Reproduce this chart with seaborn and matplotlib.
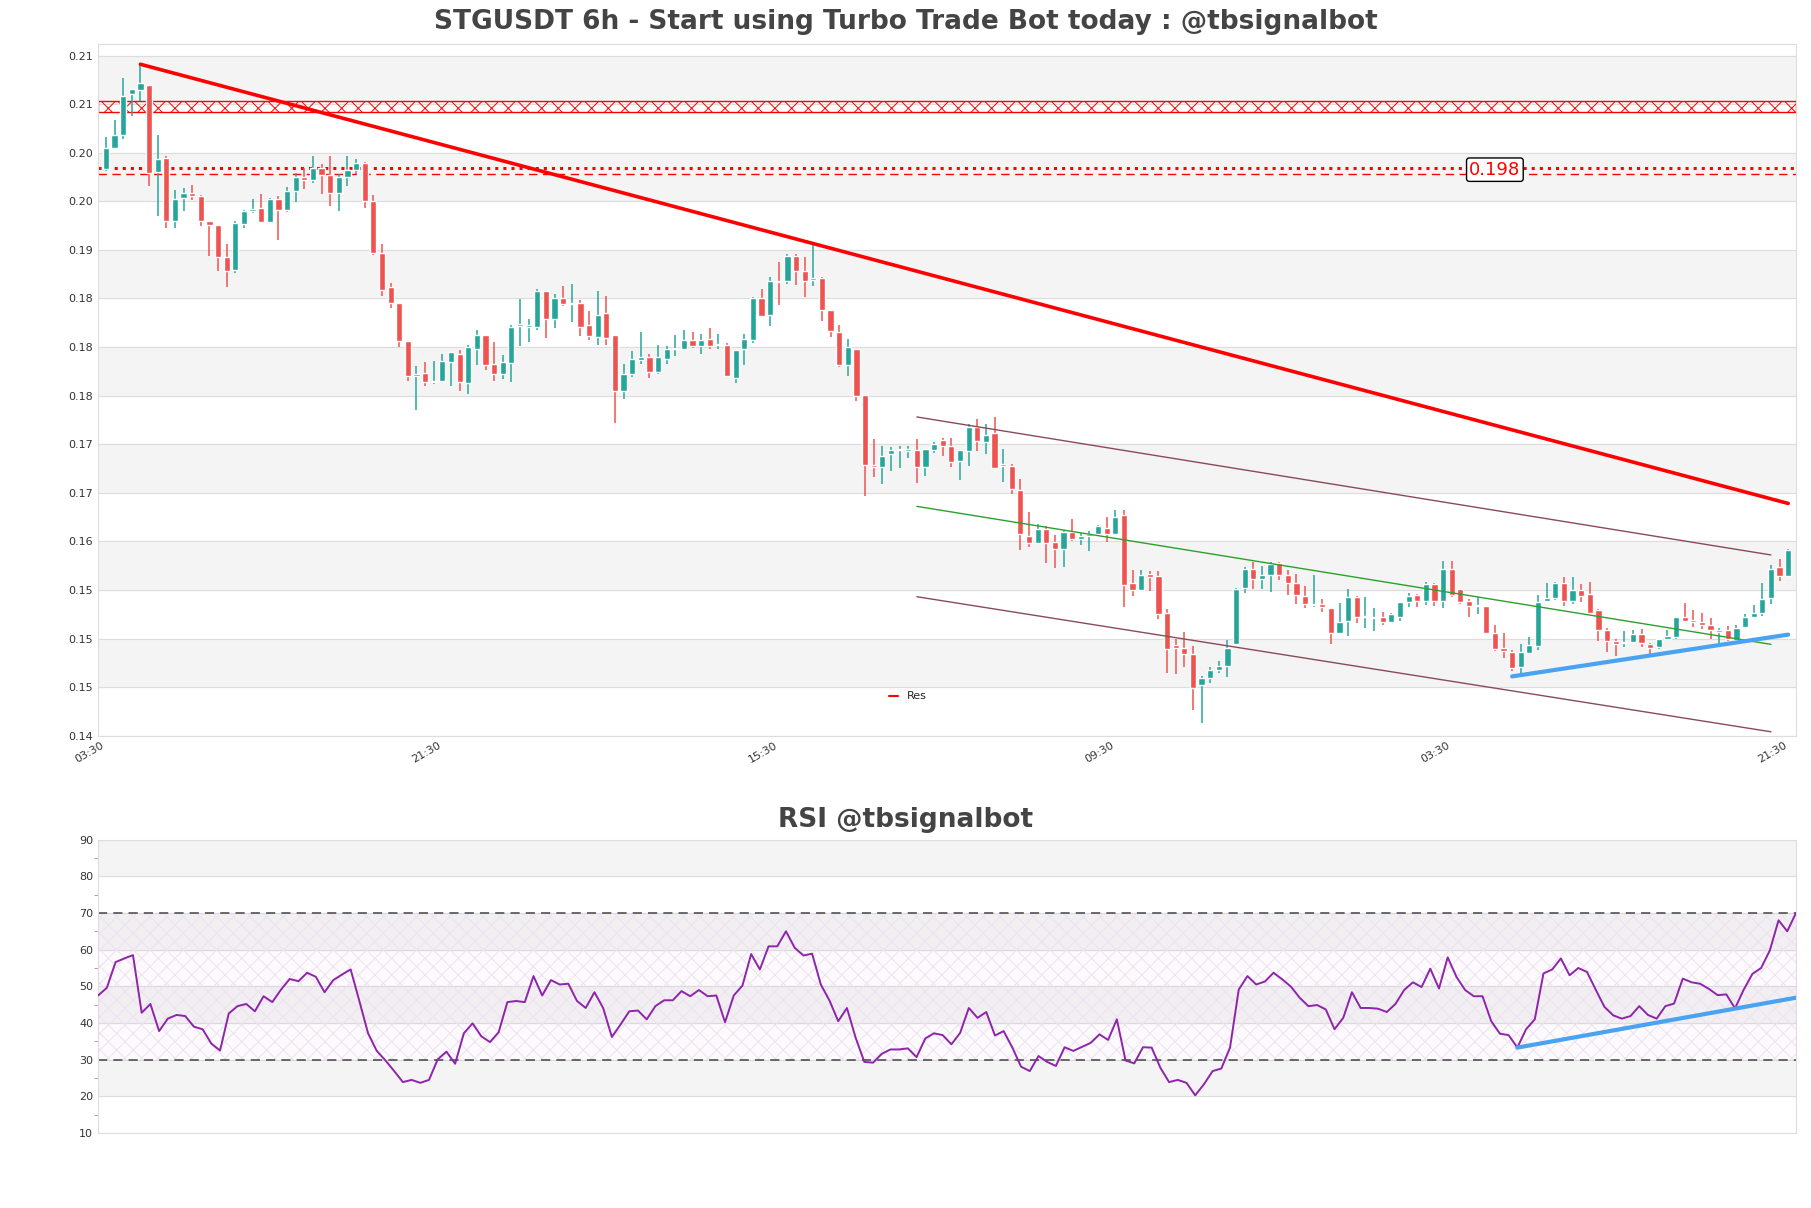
import numpy as np
import pandas as pd
import seaborn as sns
import matplotlib
matplotlib.use("Agg")
import matplotlib.pyplot as plt
from matplotlib.lines import Line2D
from matplotlib.ticker import FormatStrFormatter, MultipleLocator

# --- data (6h candles) ---
opens = [0.1983, 0.2005, 0.2018, 0.2060, 0.2064, 0.2070, 0.1980, 0.1995, 0.1930, 0.1953,
         0.1959, 0.1955, 0.1930, 0.1926, 0.1893, 0.1879, 0.1927, 0.1940, 0.1943, 0.1929,
         0.1952, 0.1941, 0.1961, 0.1975, 0.1972, 0.1984, 0.1977, 0.1959, 0.1975, 0.1982,
         0.1989, 0.1950, 0.1897, 0.1862, 0.1845, 0.1806, 0.1770, 0.1773, 0.1764, 0.1765,
         0.1785, 0.1793, 0.1763, 0.1798, 0.1812, 0.1783, 0.1772, 0.1784, 0.1822, 0.1821,
         0.1821, 0.1858, 0.1829, 0.1850, 0.1844, 0.1845, 0.1823, 0.1810, 0.1835, 0.1812,
         0.1755, 0.1772, 0.1787, 0.1790, 0.1774, 0.1788, 0.1798, 0.1798, 0.1807, 0.1801,
         0.1808, 0.1802, 0.1802, 0.1768, 0.1798, 0.1807, 0.1850, 0.1833, 0.1868, 0.1868,
         0.1894, 0.1878, 0.1869, 0.1871, 0.1838, 0.1815, 0.1781, 0.1798, 0.1751, 0.1678,
         0.1676, 0.1690, 0.1694, 0.1693, 0.1694, 0.1676, 0.1694, 0.1704, 0.1698, 0.1683,
         0.1693, 0.1718, 0.1702, 0.1712, 0.1678, 0.1678, 0.1653, 0.1606, 0.1598, 0.1613,
         0.1599, 0.1592, 0.1610, 0.1602, 0.1605, 0.1608, 0.1614, 0.1608, 0.1627, 0.1557,
         0.1550, 0.1566, 0.1564, 0.1526, 0.1493, 0.1490, 0.1484, 0.1452, 0.1459, 0.1468,
         0.1472, 0.1494, 0.1552, 0.1572, 0.1561, 0.1565, 0.1578, 0.1565, 0.1557, 0.1544,
         0.1534, 0.1536, 0.1531, 0.1506, 0.1518, 0.1543, 0.1522, 0.1521, 0.1522, 0.1517,
         0.1522, 0.1538, 0.1545, 0.1539, 0.1556, 0.1539, 0.1572, 0.1551, 0.1539, 0.1533,
         0.1533, 0.1506, 0.1490, 0.1486, 0.1471, 0.1485, 0.1492, 0.1539, 0.1542, 0.1557,
         0.1539, 0.1550, 0.1546, 0.1529, 0.1509, 0.1497, 0.1495, 0.1496, 0.1505, 0.1494,
         0.1491, 0.1499, 0.1502, 0.1522, 0.1519, 0.1517, 0.1514, 0.1507, 0.1509, 0.1498,
         0.1512, 0.1522, 0.1526, 0.1542, 0.1574, 0.1564]
closes = [0.2005, 0.2018, 0.2058, 0.2066, 0.2072, 0.1979, 0.1993, 0.1930, 0.1952, 0.1958,
          0.1955, 0.1930, 0.1926, 0.1893, 0.1878, 0.1928, 0.1940, 0.1942, 0.1929, 0.1952,
          0.1941, 0.1961, 0.1975, 0.1972, 0.1984, 0.1977, 0.1959, 0.1975, 0.1982, 0.1989,
          0.1950, 0.1897, 0.1859, 0.1845, 0.1806, 0.1770, 0.1772, 0.1764, 0.1765, 0.1786,
          0.1795, 0.1764, 0.1800, 0.1812, 0.1781, 0.1772, 0.1785, 0.1821, 0.1823, 0.1821,
          0.1858, 0.1829, 0.1850, 0.1844, 0.1845, 0.1821, 0.1811, 0.1833, 0.1809, 0.1755,
          0.1772, 0.1788, 0.1790, 0.1774, 0.1790, 0.1798, 0.1798, 0.1807, 0.1801, 0.1807,
          0.1801, 0.1803, 0.1770, 0.1797, 0.1808, 0.1850, 0.1832, 0.1868, 0.1867, 0.1894,
          0.1878, 0.1868, 0.1871, 0.1838, 0.1816, 0.1781, 0.1800, 0.1750, 0.1679, 0.1677,
          0.1688, 0.1694, 0.1694, 0.1695, 0.1676, 0.1695, 0.1700, 0.1698, 0.1682, 0.1694,
          0.1718, 0.1703, 0.1709, 0.1675, 0.1679, 0.1654, 0.1608, 0.1598, 0.1613, 0.1598,
          0.1592, 0.1610, 0.1602, 0.1606, 0.1608, 0.1616, 0.1608, 0.1625, 0.1555, 0.1550,
          0.1565, 0.1563, 0.1525, 0.1489, 0.1490, 0.1484, 0.1449, 0.1459, 0.1468, 0.1472,
          0.1490, 0.1551, 0.1572, 0.1561, 0.1565, 0.1577, 0.1565, 0.1557, 0.1545, 0.1535,
          0.1536, 0.1532, 0.1506, 0.1517, 0.1543, 0.1522, 0.1522, 0.1521, 0.1517, 0.1525,
          0.1538, 0.1544, 0.1539, 0.1556, 0.1539, 0.1572, 0.1545, 0.1538, 0.1533, 0.1533,
          0.1506, 0.1489, 0.1487, 0.1470, 0.1486, 0.1493, 0.1538, 0.1542, 0.1557, 0.1539,
          0.1550, 0.1544, 0.1526, 0.1509, 0.1497, 0.1494, 0.1496, 0.1505, 0.1495, 0.1490,
          0.1500, 0.1503, 0.1522, 0.1518, 0.1517, 0.1514, 0.1509, 0.1509, 0.1500, 0.1511,
          0.1522, 0.1526, 0.1541, 0.1572, 0.1564, 0.1591]
highs = [0.2016, 0.2034, 0.2077, 0.2066, 0.2091, 0.2070, 0.2018, 0.1997, 0.1962, 0.1964,
         0.1967, 0.1956, 0.1930, 0.1926, 0.1906, 0.1930, 0.1941, 0.1952, 0.1957, 0.1953,
         0.1955, 0.1965, 0.1979, 0.1984, 0.1997, 0.1988, 0.1997, 0.1978, 0.1997, 0.1994,
         0.1990, 0.1956, 0.1906, 0.1866, 0.1845, 0.1806, 0.1780, 0.1785, 0.1786, 0.1793,
         0.1795, 0.1797, 0.1802, 0.1818, 0.1812, 0.1805, 0.1792, 0.1823, 0.1849, 0.1829,
         0.1860, 0.1858, 0.1855, 0.1863, 0.1865, 0.1848, 0.1837, 0.1858, 0.1853, 0.1812,
         0.1783, 0.1796, 0.1815, 0.1793, 0.1802, 0.1801, 0.1812, 0.1818, 0.1815, 0.1813,
         0.1820, 0.1813, 0.1804, 0.1797, 0.1813, 0.1851, 0.1860, 0.1872, 0.1887, 0.1896,
         0.1896, 0.1893, 0.1907, 0.1872, 0.1838, 0.1823, 0.1808, 0.1798, 0.1751, 0.1705,
         0.1698, 0.1697, 0.1698, 0.1698, 0.1705, 0.1695, 0.1702, 0.1706, 0.1706, 0.1694,
         0.1721, 0.1726, 0.1721, 0.1728, 0.1695, 0.1680, 0.1664, 0.1630, 0.1618, 0.1616,
         0.1607, 0.1612, 0.1623, 0.1609, 0.1611, 0.1617, 0.1625, 0.1632, 0.1632, 0.1571,
         0.1570, 0.1569, 0.1569, 0.1530, 0.1500, 0.1507, 0.1492, 0.1461, 0.1471, 0.1477,
         0.1498, 0.1552, 0.1574, 0.1579, 0.1575, 0.1579, 0.1579, 0.1570, 0.1566, 0.1554,
         0.1565, 0.1541, 0.1531, 0.1537, 0.1551, 0.1544, 0.1543, 0.1531, 0.1527, 0.1526,
         0.1538, 0.1547, 0.1546, 0.1558, 0.1557, 0.1580, 0.1580, 0.1551, 0.1541, 0.1543,
         0.1533, 0.1514, 0.1506, 0.1488, 0.1494, 0.1502, 0.1545, 0.1557, 0.1558, 0.1563,
         0.1563, 0.1556, 0.1558, 0.1530, 0.1511, 0.1499, 0.1508, 0.1509, 0.1510, 0.1495,
         0.1500, 0.1509, 0.1522, 0.1537, 0.1529, 0.1526, 0.1521, 0.1511, 0.1513, 0.1514,
         0.1525, 0.1534, 0.1557, 0.1576, 0.1582, 0.1592]
lows = [0.1981, 0.2004, 0.2014, 0.2038, 0.2053, 0.1966, 0.1935, 0.1922, 0.1922, 0.1940,
        0.1951, 0.1925, 0.1894, 0.1878, 0.1862, 0.1876, 0.1922, 0.1938, 0.1928, 0.1929,
        0.1910, 0.1939, 0.1949, 0.1963, 0.1969, 0.1957, 0.1945, 0.1940, 0.1966, 0.1978,
        0.1943, 0.1895, 0.1852, 0.1840, 0.1800, 0.1765, 0.1735, 0.1760, 0.1762, 0.1764,
        0.1760, 0.1755, 0.1752, 0.1781, 0.1776, 0.1765, 0.1767, 0.1764, 0.1801, 0.1805,
        0.1818, 0.1809, 0.1820, 0.1842, 0.1826, 0.1811, 0.1807, 0.1802, 0.1802, 0.1722,
        0.1746, 0.1769, 0.1782, 0.1768, 0.1772, 0.1783, 0.1791, 0.1797, 0.1799, 0.1793,
        0.1798, 0.1798, 0.1769, 0.1763, 0.1781, 0.1804, 0.1831, 0.1822, 0.1843, 0.1865,
        0.1864, 0.1851, 0.1863, 0.1827, 0.1810, 0.1779, 0.1770, 0.1744, 0.1647, 0.1666,
        0.1659, 0.1672, 0.1675, 0.1686, 0.1660, 0.1667, 0.1691, 0.1688, 0.1677, 0.1663,
        0.1678, 0.1693, 0.1690, 0.1675, 0.1661, 0.1649, 0.1591, 0.1594, 0.1597, 0.1578,
        0.1573, 0.1574, 0.1600, 0.1596, 0.1590, 0.1606, 0.1599, 0.1607, 0.1532, 0.1544,
        0.1549, 0.1549, 0.1520, 0.1464, 0.1463, 0.1471, 0.1426, 0.1413, 0.1454, 0.1464,
        0.1460, 0.1493, 0.1547, 0.1551, 0.1551, 0.1548, 0.1560, 0.1545, 0.1536, 0.1531,
        0.1532, 0.1527, 0.1494, 0.1505, 0.1503, 0.1516, 0.1511, 0.1508, 0.1514, 0.1518,
        0.1518, 0.1532, 0.1532, 0.1534, 0.1533, 0.1531, 0.1543, 0.1535, 0.1522, 0.1525,
        0.1505, 0.1487, 0.1480, 0.1467, 0.1461, 0.1484, 0.1488, 0.1539, 0.1540, 0.1533,
        0.1535, 0.1538, 0.1526, 0.1497, 0.1486, 0.1482, 0.1491, 0.1495, 0.1491, 0.1483,
        0.1489, 0.1498, 0.1499, 0.1517, 0.1512, 0.1510, 0.1499, 0.1495, 0.1497, 0.1497,
        0.1511, 0.1522, 0.1523, 0.1536, 0.1559, 0.1564]

rsi = [47.5, 49.6, 56.6, 57.6, 58.5, 42.8, 45.2, 37.8, 41.2, 42.2,
       41.9, 39.0, 38.3, 34.4, 32.5, 42.6, 44.6, 45.2, 43.2, 47.3,
       45.7, 49.1, 52.0, 51.4, 53.7, 52.6, 48.4, 51.7, 53.2, 54.6,
       46.0, 37.2, 32.4, 29.8, 26.9, 23.9, 24.5, 23.7, 24.5, 30.1,
       32.2, 28.9, 37.2, 39.9, 36.4, 34.8, 37.5, 45.7, 46.0, 45.7,
       52.8, 47.5, 51.7, 50.5, 50.7, 46.0, 44.1, 48.4, 44.1, 36.2,
       39.6, 43.2, 43.4, 41.0, 44.6, 46.2, 46.2, 48.7, 47.3, 49.0,
       47.3, 47.5, 40.2, 47.5, 50.2, 58.8, 54.6, 60.9, 60.9, 65.0,
       60.5, 58.4, 58.9, 50.5, 46.1, 40.5, 44.1, 36.0, 29.4, 29.2,
       31.6, 32.8, 32.8, 33.1, 30.7, 35.8, 37.2, 36.7, 34.2, 37.3,
       44.1, 41.4, 43.0, 36.6, 37.8, 33.3, 28.1, 26.9, 31.0, 29.4,
       28.3, 33.4, 32.4, 33.5, 34.6, 36.9, 35.4, 41.0, 29.8, 29.0,
       33.4, 33.3, 27.8, 23.9, 24.5, 23.7, 20.3, 23.3, 26.9, 27.6,
       33.3, 49.1, 52.8, 50.5, 51.3, 53.7, 51.9, 49.9, 46.9, 44.6,
       44.9, 43.7, 38.3, 41.4, 48.4, 44.1, 44.1, 43.9, 43.0, 45.2,
       49.0, 51.1, 49.8, 54.8, 49.4, 57.9, 52.6, 49.0, 47.3, 47.3,
       40.5, 37.1, 36.7, 33.3, 38.3, 41.0, 53.5, 54.6, 57.6, 53.0,
       55.0, 53.9, 49.1, 44.4, 42.1, 41.2, 41.9, 44.6, 42.2, 41.2,
       44.6, 45.3, 52.1, 51.1, 50.7, 49.3, 47.6, 47.8, 44.0, 49.1,
       53.4, 55.0, 59.8, 68.0, 65.0, 70.0]

tick_pos = [0, 39, 78, 117, 156, 195]
tick_labels = ["03:30", "21:30", "15:30", "09:30", "03:30", "21:30"]

# trend lines: (x0, y0, x1, y1)
main_trend = [4, 0.2091, 195, 0.1639]
chan_upper = [94, 0.1728, 193, 0.1586]
chan_mid = [94, 0.1636, 193, 0.1494]
chan_lower = [94, 0.1543, 193, 0.1404]
support_line = [163, 0.1461, 195, 0.1504]
rsi_support = [163, 33.3, 195, 46.9]
res_zone = [0.2042, 0.2053]
res_level = 0.1984
res_level2 = 0.1978

GREEN = "#26a69a"
RED = "#ef5350"

df = pd.DataFrame({"open": opens, "high": highs, "low": lows, "close": closes})
df["i"] = np.arange(len(df))
df["up"] = df["close"] >= df["open"]

sns.set_style("white")
plt.rcParams["font.family"] = "DejaVu Sans"
plt.rcParams["hatch.linewidth"] = 0.7
fig = plt.figure(figsize=(18.11, 12.08), dpi=100)
ax = fig.add_axes([0.0542, 0.391, 0.9375, 0.5727])
ax2 = fig.add_axes([0.0542, 0.062, 0.9375, 0.243])

# --- price panel ---
for lo in np.arange(0.145, 0.21, 0.01):
    ax.axhspan(lo, lo + 0.005, color="#f4f4f4", zorder=0)
for y in np.arange(0.14, 0.2101, 0.005):
    ax.axhline(y, color="#dddddd", lw=0.8, zorder=0.5)

colors = np.where(df["up"], GREEN, RED)
ax.vlines(df["i"], df["low"], df["high"], color=colors, lw=1.1, zorder=2)
body_lo = np.minimum(df["open"], df["close"])
body_h = np.maximum(np.abs(df["close"] - df["open"]), 0.00012)
ax.bar(df["i"], body_h, bottom=body_lo, width=0.72, color=colors, zorder=3)

ax.axhspan(res_zone[0], res_zone[1], facecolor="none", edgecolor="red", hatch="xx", lw=1.0, zorder=1)
ax.axhline(res_level, color="red", ls=":", lw=2.2, zorder=1)
ax.axhline(res_level2, color="red", ls=(0, (6, 4)), lw=1.0, zorder=1)
ax.text(161, res_level - 0.00015, "0.198", color="red", fontsize=13, ha="center", va="center",
        bbox=dict(boxstyle="round,pad=0.15", fc="white", ec="black", lw=1), zorder=5)

ax.plot(main_trend[0::2], main_trend[1::2], color="red", lw=2.6, zorder=4)
ax.plot(chan_upper[0::2], chan_upper[1::2], color="#8b4a5c", lw=1.0, zorder=4)
ax.plot(chan_lower[0::2], chan_lower[1::2], color="#8b4a5c", lw=1.0, zorder=4)
ax.plot(chan_mid[0::2], chan_mid[1::2], color="#2ca02c", lw=1.0, zorder=4)
ax.plot(support_line[0::2], support_line[1::2], color="#4aa3f0", lw=3, zorder=4)

ax.set_xlim(-0.9, 195.9)
ax.set_ylim(0.14, 0.2112)
ax.yaxis.set_major_locator(MultipleLocator(0.005))
ax.yaxis.set_major_formatter(FormatStrFormatter("%.2f"))
ax.set_xticks(tick_pos)
ax.set_xticklabels(tick_labels, rotation=30, ha="right")
ax.tick_params(labelsize=8, colors="#333333", length=0)
for s in ax.spines.values():
    s.set_color("#dddddd")
ax.set_title("STGUSDT 6h - Start using Turbo Trade Bot today : @tbsignalbot",
             fontsize=19, fontweight="bold", color="#444444", pad=11, x=0.4755)
ax.legend(handles=[Line2D([0], [0], color="red", lw=1.5)], labels=["Res"],
          loc="lower left", bbox_to_anchor=(0.46, 0.035), frameon=False, fontsize=8,
          handlelength=0.8)

# --- RSI panel ---
for lo in [20, 40, 60, 80]:
    ax2.axhspan(lo, lo + 10, color="#f4f4f4", zorder=0)
for y in range(10, 91, 10):
    ax2.axhline(y, color="#dddddd", lw=0.8, zorder=0.5)
ax2.axhspan(30, 70, facecolor="#ab47bc", alpha=0.025, zorder=0.6)
ax2.axhspan(30, 70, facecolor="none", edgecolor="#ece2f0", hatch="xx", lw=0, zorder=0.7)
ax2.axhline(70, color="#444444", ls=(0, (6, 4)), lw=1.1, zorder=1)
ax2.axhline(30, color="#444444", ls=(0, (6, 4)), lw=1.1, zorder=1)
rsi_df = pd.DataFrame({"i": np.arange(len(rsi)), "rsi": rsi})
sns.lineplot(data=rsi_df, x="i", y="rsi", ax=ax2, color="#8e24aa", lw=1.4, zorder=3)
ax2.plot(rsi_support[0::2], rsi_support[1::2], color="#4aa3f0", lw=3, zorder=4)
ax2.set_xlim(0, 195)
ax2.set_ylim(10, 90)
ax2.set_yticks(range(10, 91, 10))
ax2.yaxis.set_minor_locator(MultipleLocator(5))
ax2.set_xticks([])
ax2.set_xlabel("")
ax2.set_ylabel("")
ax2.tick_params(labelsize=8, colors="#333333", length=0)
ax2.tick_params(which="minor", length=3, color="#999999", left=True)
for s in ax2.spines.values():
    s.set_color("#dddddd")
ax2.set_title("RSI @tbsignalbot", fontsize=19, fontweight="bold", color="#444444", pad=9, x=0.4755)

fig.savefig("out.png", dpi=100)
